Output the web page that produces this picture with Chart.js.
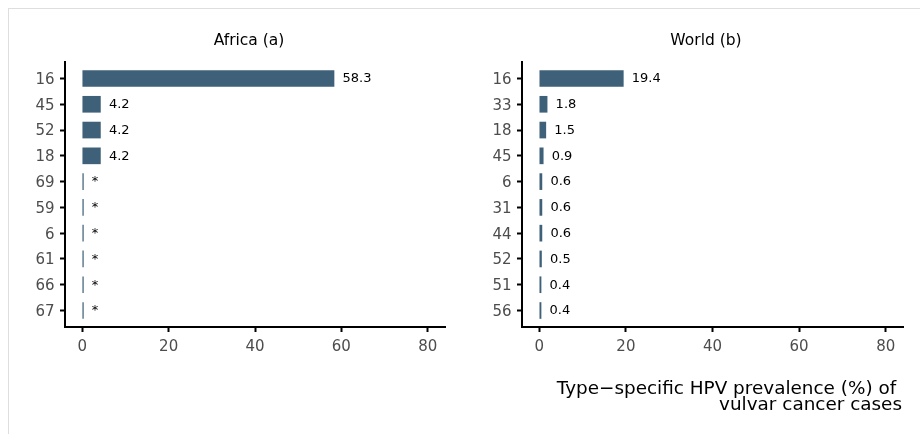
<!DOCTYPE html>
<html>
<head>
<meta charset="utf-8">
<script src="https://cdn.jsdelivr.net/npm/chart.js@4/dist/chart.umd.min.js"></script>
<style>
  html, body { margin: 0; padding: 0; background: #fff; }
  body { width: 920px; height: 434px; position: relative; overflow: hidden; font-family: "DejaVu Sans", sans-serif; }
  .frame { position: absolute; left: 8px; top: 8px; width: 940px; height: 460px; border: 1px solid #dedede; }
  .panel { position: absolute; top: 0; width: 460px; height: 434px; }
  .title { position: absolute; top: 31px; font-size: 15.5px; color: #000; transform: translateX(-50%); white-space: nowrap; }
  .xtitle { position: absolute; right: 18px; top: 380px; font-size: 18.4px; line-height: 16px; color: #000; text-align: right; white-space: pre; }
</style>
</head>
<body>
<div class="frame"></div>
<div class="panel" style="left:0"><canvas id="africa" width="460" height="434"></canvas></div>
<div class="panel" style="left:460px"><canvas id="world" width="460" height="434"></canvas></div>
<div class="title" style="left:249px">Africa (a)</div>
<div class="title" style="left:706px">World (b)</div>
<div class="xtitle">Type−specific HPV prevalence (%) of 
vulvar cancer cases</div>
<script>
// --- données ---
const africaTypes = ['16', '45', '52', '18', '69', '59', '6', '61', '66', '67'];
const africaValues = [58.3, 4.2, 4.2, 4.2, 0.25, 0.25, 0.25, 0.25, 0.25, 0.25];
const africaLabels = ['58.3', '4.2', '4.2', '4.2', '*', '*', '*', '*', '*', '*'];

const worldTypes = ['16', '33', '18', '45', '6', '31', '44', '52', '51', '56'];
const worldValues = [19.4, 1.8, 1.5, 0.9, 0.6, 0.6, 0.6, 0.5, 0.4, 0.4];
const worldLabels = ['19.4', '1.8', '1.5', '0.9', '0.6', '0.6', '0.6', '0.5', '0.4', '0.4'];

const xTicks = [0, 20, 40, 60, 80];

const BAR_COLOR = '#3e6179';

// étiquettes de valeur au bout des barres
const valueLabels = {
    id: 'valueLabels',
    afterDatasetsDraw(chart) {
        const ctx = chart.ctx;
        const texts = chart.options.plugins.valueLabels.texts;
        const meta = chart.getDatasetMeta(0);
        ctx.save();
        ctx.font = '13px "DejaVu Sans"';
        ctx.fillStyle = '#000';
        ctx.textAlign = 'left';
        ctx.textBaseline = 'middle';
        meta.data.forEach((bar, i) => {
            ctx.fillText(texts[i], bar.x + 8.5, bar.y + 0.5);
        });
        ctx.restore();
    }
};

function makePanel(id, types, values, labels, yWidth, padRight) {
    const ctx = document.getElementById(id).getContext('2d');
    return new Chart(ctx, {
        type: 'bar',
        data: {
            datasets: [{
                data: values.map((v, i) => ({ x: v, y: i })),
                backgroundColor: BAR_COLOR,
                borderWidth: 0,
                barThickness: 16
            }]
        },
        options: {
            indexAxis: 'y',
            responsive: false, animation: false,
            layout: { padding: { left: 0, top: 62, right: padRight, bottom: 77 } },
            scales: {
                x: {
                    type: 'linear', min: -4, max: 84,
                    afterBuildTicks: s => { s.ticks = xTicks.map(v => ({ value: v })); },
                    afterFit: s => { s.height = 30; },
                    border: { display: true, color: '#000', width: 2 },
                    grid: { drawOnChartArea: false, drawTicks: true, tickLength: 5, tickColor: '#000', tickWidth: 2 },
                    ticks: { color: '#4d4d4d', font: { size: 15, family: 'DejaVu Sans' }, padding: 6, maxRotation: 0 }
                },
                y: {
                    type: 'linear', min: -0.64, max: 9.64, reverse: true,
                    offset: false,
                    afterBuildTicks: s => { s.ticks = types.map((t, i) => ({ value: i })); },
                    afterFit: s => { s.width = yWidth; },
                    border: { display: true, color: '#000', width: 2 },
                    grid: { offset: false, drawOnChartArea: false, drawTicks: true, tickLength: 5, tickColor: '#000', tickWidth: 2 },
                    ticks: {
                        color: '#4d4d4d', font: { size: 15, family: 'DejaVu Sans' }, padding: 5.5,
                        labelOffset: 1.5,
                        callback: v => types[v]
                    }
                }
            },
            plugins: {
                legend: { display: false },
                tooltip: { enabled: false },
                valueLabels: { texts: labels }
            }
        },
        plugins: [valueLabels]
    });
}

makePanel('africa', africaTypes, africaValues, africaLabels, 65, 15);
makePanel('world', worldTypes, worldValues, worldLabels, 62, 17);
</script>
</body>
</html>
